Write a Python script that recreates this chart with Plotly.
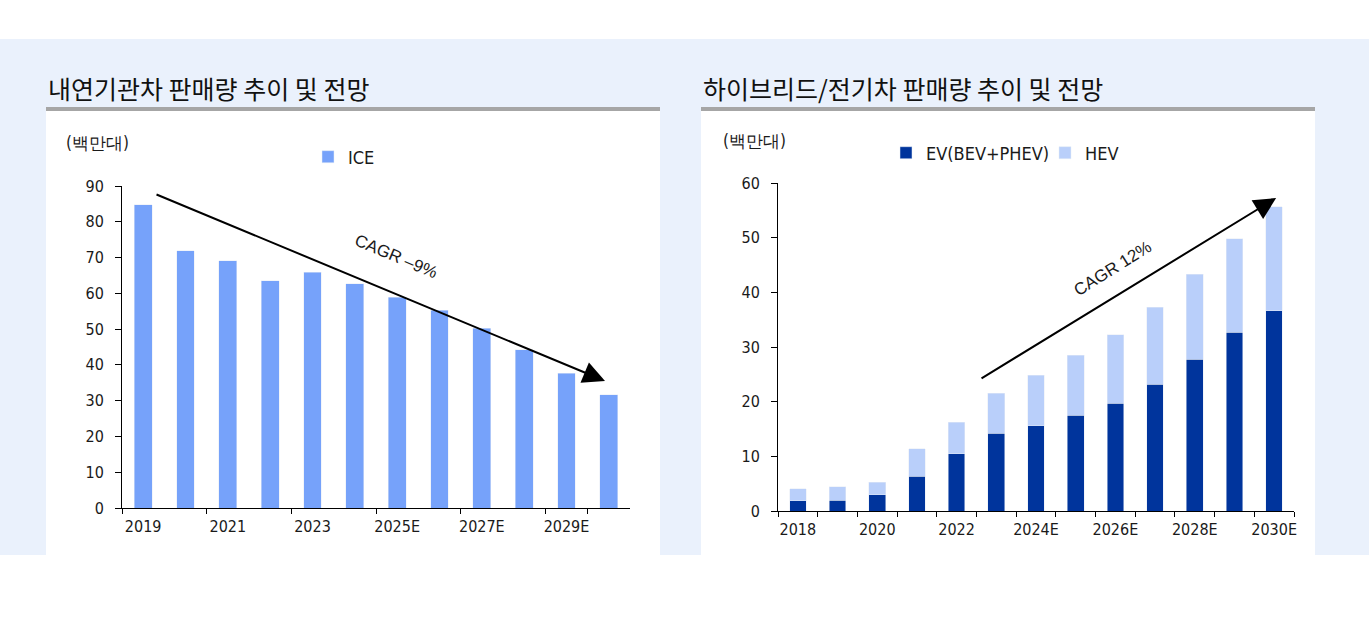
import plotly.graph_objects as go

W, H = 1369, 620

# ---------------- data ----------------
ice_years = ["2019", "2020", "2021", "2022", "2023", "2024E", "2025E", "2026E",
             "2027E", "2028E", "2029E", "2030E"]
ice_sales = [84.8, 71.9, 69.1, 63.5, 65.9, 62.7, 58.9, 55.3, 50.2, 44.2, 37.6, 31.7]

xev_years = ["2018", "2019", "2020", "2021", "2022", "2023", "2024E", "2025E",
             "2026E", "2027E", "2028E", "2029E", "2030E"]
ev_sales = [1.9, 2.0, 3.0, 6.4, 10.5, 14.2, 15.6, 17.5, 19.7, 23.2, 27.8, 32.7, 36.6]
hev_sales = [2.2, 2.4, 2.3, 5.0, 5.7, 7.3, 9.2, 11.0, 12.5, 14.1, 15.5, 17.1, 19.1]

left_title = "내연기관차 판매량 추이 및 전망"
right_title = "하이브리드/전기차 판매량 추이 및 전망"
unit_label = "(백만대)"

# ---------------- style ----------------
C_ICE = "#76A2FA"
C_EV = "#00349C"
C_HEV = "#B9CFFA"
C_PANEL = "#EAF1FC"
C_RULE = "#A6A6A6"
NARROW = "Liberation Sans Narrow, Arial Narrow, DejaVu Sans Condensed, sans-serif"
KR = "Noto Sans CJK KR, Noto Sans, sans-serif"
TXT = "#1a1a1a"


def px(x):
    return x / W


def py(y):
    return 1 - y / H


fig = go.Figure()

fig.add_trace(go.Bar(x=ice_years, y=ice_sales, name="ICE", marker_color=C_ICE,
                     width=0.42, xaxis="x", yaxis="y", legend="legend"))
fig.add_trace(go.Bar(x=xev_years, y=ev_sales, name="EV(BEV+PHEV)", marker_color=C_EV,
                     width=0.42, xaxis="x2", yaxis="y2", legend="legend2"))
fig.add_trace(go.Bar(x=xev_years, y=hev_sales, name="HEV", marker_color=C_HEV,
                     width=0.42, xaxis="x2", yaxis="y2", legend="legend3"))

axis_common = dict(showline=True, linecolor="black", linewidth=1, ticks="outside",
                   tickcolor="black", showgrid=False, zeroline=False, automargin=False,
                   tickfont=dict(family=NARROW, size=16, color=TXT))
xaxis_common = dict(type="category", tickson="boundaries", tickmode="array",
                    tickangle=0, ticklen=5, ticklabelstandoff=4, **axis_common)
yaxis_common = dict(dtick=10, ticklen=6, ticklabelstandoff=8, **axis_common)
legend_common = dict(xanchor="left", yanchor="middle", bgcolor="rgba(0,0,0,0)",
                     font=dict(family=NARROW, size=18, color=TXT), itemwidth=30)

fig.update_layout(
    width=W, height=H, margin=dict(l=0, r=0, t=0, b=0, pad=0, autoexpand=False),
    paper_bgcolor="white", plot_bgcolor="rgba(0,0,0,0)",
    barmode="stack", showlegend=True,
    xaxis=dict(domain=[px(122), px(630)], anchor="y", tickvals=ice_years[::2],
               **xaxis_common),
    yaxis=dict(domain=[py(508), py(186)], anchor="x", range=[0, 90], **yaxis_common),
    xaxis2=dict(domain=[px(778), px(1294)], anchor="y2", tickvals=xev_years,
                ticktext=[t if i % 2 == 0 else "" for i, t in enumerate(xev_years)],
                **xaxis_common),
    yaxis2=dict(domain=[py(511), py(183)], anchor="x2", range=[0, 60], **yaxis_common),
    legend=dict(x=px(308), y=py(157), **legend_common),
    legend2=dict(x=px(886), y=py(153), **legend_common),
    legend3=dict(x=px(1045), y=py(153), **legend_common),
)

# background panels
shapes = [
    dict(type="rect", xref="paper", yref="paper", x0=0, x1=1, y0=py(555), y1=py(39),
         fillcolor=C_PANEL, line_width=0, layer="below"),
    dict(type="rect", xref="paper", yref="paper", x0=px(46), x1=px(660), y0=py(555), y1=py(111),
         fillcolor="white", line_width=0, layer="below"),
    dict(type="rect", xref="paper", yref="paper", x0=px(701), x1=px(1315), y0=py(555), y1=py(111),
         fillcolor="white", line_width=0, layer="below"),
    dict(type="rect", xref="paper", yref="paper", x0=px(46), x1=px(660), y0=py(111), y1=py(107),
         fillcolor=C_RULE, line_width=0, layer="below"),
    dict(type="rect", xref="paper", yref="paper", x0=px(701), x1=px(1315), y0=py(111), y1=py(107),
         fillcolor=C_RULE, line_width=0, layer="below"),
]
fig.update_layout(shapes=shapes)

annotations = [
    dict(text=left_title, xref="paper", yref="paper", x=px(46), y=py(88), xanchor="left",
         yanchor="middle", showarrow=False, font=dict(family=KR, size=25, color="#111")),
    dict(text=right_title, xref="paper", yref="paper", x=px(701), y=py(88), xanchor="left",
         yanchor="middle", showarrow=False, font=dict(family=KR, size=25, color="#111")),
    dict(text=unit_label, xref="paper", yref="paper", x=px(64), y=py(143), xanchor="left",
         yanchor="middle", showarrow=False, font=dict(family=NARROW, size=17, color=TXT)),
    dict(text=unit_label, xref="paper", yref="paper", x=px(721), y=py(141), xanchor="left",
         yanchor="middle", showarrow=False, font=dict(family=NARROW, size=17, color=TXT)),
    # trend arrows
    dict(xref="x", yref="y", axref="x", ayref="y", x=10.91, y=35.5, ax=0.28, ay=87.8,
         showarrow=True, arrowhead=2, arrowsize=2.2, arrowwidth=2, arrowcolor="black",
         text="", standoff=0, startstandoff=0),
    dict(xref="x2", yref="y2", axref="x2", ayref="y2", x=12.05, y=57.25, ax=4.59, ay=24.1,
         showarrow=True, arrowhead=2, arrowsize=2.2, arrowwidth=2, arrowcolor="black",
         text="", standoff=0, startstandoff=0),
    dict(xref="x", yref="y", x=5.97, y=70.2, text="CAGR –9%", showarrow=False, textangle=23,
         font=dict(family="Liberation Sans, Arial, sans-serif", size=17, color=TXT)),
    dict(xref="x2", yref="y2", x=7.94, y=44.3, text="CAGR 12%", showarrow=False, textangle=-32,
         font=dict(family="Liberation Sans, Arial, sans-serif", size=17, color=TXT)),
]
fig.update_layout(annotations=annotations)

fig.write_html(
    "out.html",
    config={"displayModeBar": False},
    post_script="document.body.style.margin='0px';document.body.style.overflow='hidden';",
)
